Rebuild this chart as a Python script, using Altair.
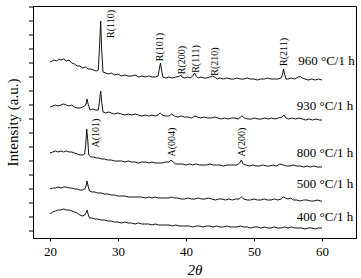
import altair as alt
import pandas as pd

# ---- data (2theta in degrees, intensity in arbitrary units) ----
x960 = [20.0,20.3,20.6,21.0,21.3,21.6,22.0,22.4,22.8,23.2,23.6,24.0,24.4,24.8,25.2,25.6,26.0,26.4,26.8,27.1,
        27.3,27.45,27.6,27.8,28.2,28.6,29.0,29.5,30.0,30.5,31.0,31.5,32.0,32.5,33.0,33.5,34.0,34.5,35.0,35.5,
        35.9,36.1,36.25,36.4,36.6,37.0,37.5,38.0,38.5,39.0,39.2,39.4,39.8,40.2,40.6,41.0,41.25,41.5,41.8,42.2,
        42.6,43.0,43.5,43.9,44.2,44.6,45.0,45.5,46.0,46.5,47.0,47.5,48.0,48.5,49.0,49.5,50.0,50.5,51.0,51.5,
        52.0,52.5,53.0,53.5,54.0,54.2,54.35,54.5,54.7,55.0,55.5,56.0,56.5,56.8,57.1,57.5,58.0,58.5,59.0,59.5,60.0]
i960 = [176,177,178,177,179,178,179,177,178,175,174,172,172,170,171,169,169,168,167,168,
        193,217,188,166,165,164,165,163,164,162,163,162,162,163,161,162,161,162,161,161,
        162,170,175,168,161,160,161,160,161,161.5,163,161,160,161,160,162,165,162,160,161,
        160,160,161,162,161,159,160,159,160,159,159,160,159,159,160,159,159,158,159,159,
        160,159,159,159,160,164,169,164,159,159,160,159,161,161.5,160,159,158,159,158,159,158]

x930 = [20.0,20.4,20.8,21.2,21.6,22.0,22.4,22.8,23.2,23.6,24.0,24.4,24.8,25.1,25.3,25.45,25.6,25.9,26.3,26.7,
        27.1,27.3,27.45,27.6,27.8,28.2,28.6,29.0,29.5,30.0,30.5,31.0,31.5,32.0,32.5,33.0,33.5,34.0,34.5,35.0,
        35.5,35.9,36.2,36.5,37.0,37.5,37.9,38.3,38.8,39.3,39.8,40.3,40.8,41.3,41.7,42.2,42.7,43.2,43.7,44.2,
        44.7,45.2,45.7,46.2,46.7,47.2,47.7,48.2,48.6,49.1,49.6,50.1,50.6,51.1,51.6,52.1,52.6,53.1,53.6,54.1,
        54.4,54.7,55.1,55.6,56.1,56.6,57.1,57.6,58.1,58.6,59.1,59.6,60.0]
i930 = [131,132,133,132,133,134,133,132,133,131,130,130,131,132,134,139,134,128,129,128,
        128,138,147,136,126,125,126,125,124,125,124,123,124,123,124,123,122,123,122,123,
        122,123,125,123,122,122,124,122,121,122,121,121,120,122,121,120,121,120,120,121,
        120,119,120,119,120,120,119,122,120,119,119,120,119,119,120,119,120,119,120,121,
        123,120,119,120,119,120,119,118,119,118,119,118,118]

x800 = [20.0,20.4,20.8,21.2,21.6,22.0,22.4,22.8,23.2,23.6,24.0,24.4,24.8,25.1,25.25,25.4,25.55,25.7,26.0,26.4,
        26.8,27.2,27.6,28.0,28.5,29.0,29.5,30.0,30.5,31.0,31.5,32.0,32.5,33.0,33.5,34.0,34.5,35.0,35.5,36.0,
        36.5,37.0,37.5,37.8,38.1,38.5,39.0,39.5,40.0,40.5,41.0,41.5,42.0,42.5,43.0,43.5,44.0,44.5,45.0,45.5,
        46.0,46.5,47.0,47.5,47.9,48.15,48.4,48.8,49.3,49.8,50.3,50.8,51.3,51.8,52.3,52.8,53.3,53.8,54.3,54.8,
        55.3,55.8,56.3,56.8,57.3,57.8,58.3,58.8,59.3,59.8,60.0]
i800 = [85,86,87,86,87,86,87,86,86,85,84,83,83,84,93,109,98,83,81,81,
        80,80,79,79,78,78,77,77,77,76,77,76,76,75,76,76,75,76,75,75,
        75,76,76,78,76,74,74,74,73,74,73,74,73,73,73,74,73,73,73,72,
        73,73,73,73,75,78,74,73,72,73,72,72,73,72,72,73,72,74,73,72,
        72,73,72,72,71,72,71,72,71,71,71]

x500 = [20.0,20.4,20.8,21.2,21.6,22.0,22.4,22.8,23.2,23.6,24.0,24.4,24.8,25.1,25.3,25.45,25.6,25.8,26.2,26.6,
        27.0,27.5,28.0,28.5,29.0,29.5,30.0,30.5,31.0,31.5,32.0,32.5,33.0,33.5,34.0,34.5,35.0,35.5,36.0,36.5,
        37.0,37.5,37.9,38.3,38.8,39.3,39.8,40.3,40.8,41.3,41.8,42.3,42.8,43.3,43.8,44.3,44.8,45.3,45.8,46.3,
        46.8,47.3,47.8,48.15,48.5,49.0,49.5,50.0,50.5,51.0,51.5,52.0,52.5,53.0,53.5,54.0,54.3,54.6,55.0,55.4,
        55.8,56.3,56.8,57.3,57.8,58.3,58.8,59.3,59.8,60.0]
i500 = [49,50,50,51,50,51,51,50,50,49,49,48,48,49,52,57,52,47,46,46,
        45,45,44,44,43,43,42,42,42,41,41,41,41,41,40,41,40,41,40,40,
        40,40,41,40,40,39,39,40,39,39,40,39,39,40,39,38,39,39,38,39,
        38,39,39,41,39,38,38,39,38,38,39,38,38,39,38,39,41,40,39,40,
        38,38,37,38,38,37,37,38,37,37]

x400 = [20.0,20.4,20.8,21.2,21.6,22.0,22.4,22.8,23.2,23.6,24.0,24.4,24.8,25.1,25.3,25.45,25.6,25.8,26.2,26.6,
        27.0,27.5,28.0,28.5,29.0,29.5,30.0,30.5,31.0,31.5,32.0,32.5,33.0,33.5,34.0,34.5,35.0,35.5,36.0,36.5,
        37.0,37.5,38.0,38.5,39.0,39.5,40.0,40.5,41.0,41.5,42.0,42.5,43.0,43.5,44.0,44.5,45.0,45.5,46.0,46.5,
        47.0,47.5,48.0,48.5,49.0,49.5,50.0,50.5,51.0,51.5,52.0,52.5,53.0,53.5,54.0,54.5,55.0,55.5,56.0,56.5,
        57.0,57.5,58.0,58.5,59.0,59.5,60.0]
i400 = [24,26,27,28,28,29,28,28,27,26,25,23,22,23,25,28,24,20,20,19,
        19,18,18,17,17,16,16,15,16,15,15,14,15,14,14,14,13,14,13,13,
        13,13,12,13,12,12,12,12,11,12,12,11,12,12,11,12,11,11,12,11,
        11,11,12,11,11,10,11,11,10,11,10,10,11,10,10,11,10,11,10,10,
        10,9,10,10,9,10,10]

series_names = ["960", "930", "800", "500", "400"]
series_x = [x960, x930, x800, x500, x400]
series_i = [i960, i930, i800, i500, i400]

series_labels = ["960 \u00b0C/1 h", "930 \u00b0C/1 h", "800 \u00b0C/1 h", "500 \u00b0C/1 h", "400 \u00b0C/1 h"]
series_label_x = [56.5, 56.3, 56.3, 56.3, 56.3]
series_label_y = [177, 132, 85, 54, 21]

peak_labels = ["R(110)", "R(101)", "R(200)", "R(111)", "R(210)", "R(211)", "A(101)", "A(004)", "A(200)"]
peak_label_x = [29.0, 36.2, 39.4, 41.5, 44.3, 54.4, 26.8, 37.9, 48.2]
peak_label_y = [214, 191, 178, 179, 176.5, 186, 105, 96, 96]

x_ticks = [20, 30, 40, 50, 60]
y_ticks = [7 + 14 * k for k in range(17)]

# ---- build tables (shared field names so that all layers share one axis definition) ----
rows = []
for name, xs, ys in zip(series_names, series_x, series_i):
    for a, b in zip(xs, ys):
        rows.append({"series": name, "two_theta": a, "intensity": b})
lines_df = pd.DataFrame(rows)
series_df = pd.DataFrame({"label": series_labels, "two_theta": series_label_x, "intensity": series_label_y})
peaks_df = pd.DataFrame({"label": peak_labels, "two_theta": peak_label_x, "intensity": peak_label_y})
yticks_df = pd.DataFrame({"intensity": y_ticks})

FONT = "Liberation Serif"
xscale = alt.Scale(domain=[17.5, 65], nice=False, zero=False)
yscale = alt.Scale(domain=[0, 232], nice=False, zero=False)

x_enc = alt.X("two_theta:Q", scale=xscale,
              axis=alt.Axis(values=x_ticks, title="2\u03b8", grid=False, tickSize=3,
                            labelFont=FONT, labelFontSize=13, labelPadding=4, labelColor="black",
                            titleFont=FONT, titleFontSize=15, titleFontStyle="italic",
                            titleFontWeight="normal", titleColor="black", titlePadding=4,
                            domainColor="black", tickColor="black"))
y_enc = alt.Y("intensity:Q", scale=yscale,
              axis=alt.Axis(values=y_ticks, labels=False, ticks=False, title="Intensity (a.u.)",
                            grid=False, titleFont=FONT, titleFontSize=15,
                            titleFontWeight="normal", titleColor="black", titlePadding=13,
                            domainColor="black"))

lines = alt.Chart(lines_df).mark_line(color="#111111", strokeWidth=1).encode(
    x=x_enc, y=y_enc, detail="series:N",
)

# left-side minor ticks of the intensity axis
yticks = alt.Chart(yticks_df).mark_rule(color="black", strokeWidth=1).encode(
    y=y_enc, x=alt.value(-4), x2=alt.value(0)
)

series_text = alt.Chart(series_df).mark_text(
    font=FONT, fontSize=13, align="left", baseline="middle", color="black"
).encode(x=x_enc, y=y_enc, text="label:N")

peak_text = alt.Chart(peaks_df).mark_text(
    font=FONT, fontSize=10, angle=270, align="center", baseline="middle", color="black"
).encode(x=x_enc, y=y_enc, text="label:N")

chart = alt.layer(lines, yticks, series_text, peak_text).properties(
    width=323, height=232,
    autosize=alt.AutoSizeParams(type="none"),
    padding={"left": 33, "top": 6, "right": 5, "bottom": 40},
    background="white",
).configure_view(stroke="black", strokeWidth=1)

chart.save("out.html", embed_options={"renderer": "svg", "actions": False})
